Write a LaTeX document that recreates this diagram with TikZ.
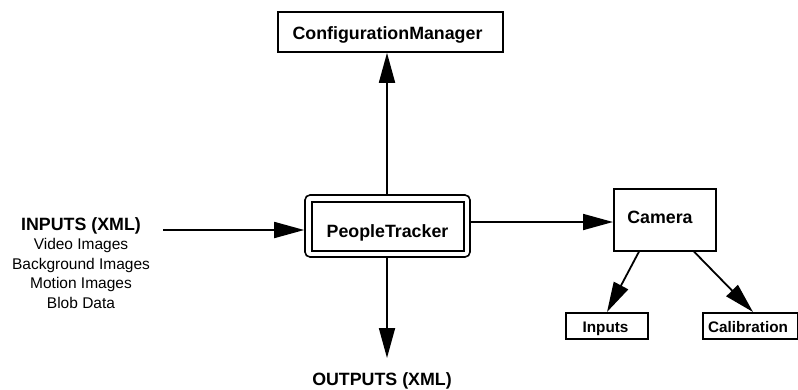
\documentclass[tikz,border=0pt]{standalone}
\usepackage{fontspec}
\setmainfont{Liberation Sans}
\usetikzlibrary{arrows.meta}
\begin{document}
\begin{tikzpicture}[x=1pt,y=-1pt,
  frame/.style={draw,line width=1.6pt,inner sep=0pt},
  title/.style={inner sep=0pt,anchor=base,font=\bfseries\fontsize{17.8}{20}\selectfont},
  subtitle/.style={inner sep=0pt,anchor=base,font=\bfseries\fontsize{15.3}{18}\selectfont},
  item/.style={inner sep=0pt,anchor=base,font=\fontsize{15.5}{18}\selectfont},
  conn/.style={line width=1.8pt,-{Triangle[length=30pt,width=16pt]}}]
\useasboundingbox (0,0) rectangle (798,389);

% component frames
\node[frame,minimum width=225pt,minimum height=40pt] (cfg) at (390.5,32) {};
\node[frame,rounded corners=5pt,minimum width=165pt,minimum height=62pt] (ptout) at (387.5,226) {};
\node[frame,line width=2pt,minimum width=152pt,minimum height=49pt] (pt) at (388,226.5) {};
\node[frame,minimum width=102pt,minimum height=62pt,anchor=north west] (cam) at (613,188) {};
\node[frame,minimum width=82pt,minimum height=26pt,anchor=north west] (inp) at (565,312) {};
\node[frame,minimum width=95pt,minimum height=26pt,anchor=north west] (cal) at (702,312) {};

% component labels
\node[title] (cfgtxt) at (387.5,39) {ConfigurationManager};
\node[title] (pttxt) at (387.5,237) {PeopleTracker};
\node[title] (camtxt) at (660,223) {Camera};
\node[subtitle] (inptxt) at (605.5,332) {Inputs};
\node[subtitle] (caltxt) at (748,332) {Calibration};

% external data
\node[title] (inputs) at (81,230) {INPUTS (XML)};
\node[item] (in1) at (81,249) {Video Images};
\node[item] (in2) at (81,269) {Background Images};
\node[item] (in3) at (81,288.5) {Motion Images};
\node[item] (in4) at (81,308) {Blob Data};
\coordinate (instart) at (163,230);
\node[title] (outputs) at (382,385.5) {OUTPUTS (XML)};
\coordinate (outend) at (387,358);

% connectors
\draw[conn] (instart) -- (instart -| ptout.west);
\draw[conn] (ptout.north -| outend) -- (outend |- cfg.south);
\draw[conn] (ptout.south -| outend) -- (outend);
\draw[conn] (ptout.east |- 0,222) -- (cam.west |- 0,222);
\draw[conn] (cam.south -| 639,0) -- (inp.north -| 607,0);
\draw[conn] (cam.south -| 694,0) -- (cal.north -| 753,0);
\end{tikzpicture}
\end{document}
